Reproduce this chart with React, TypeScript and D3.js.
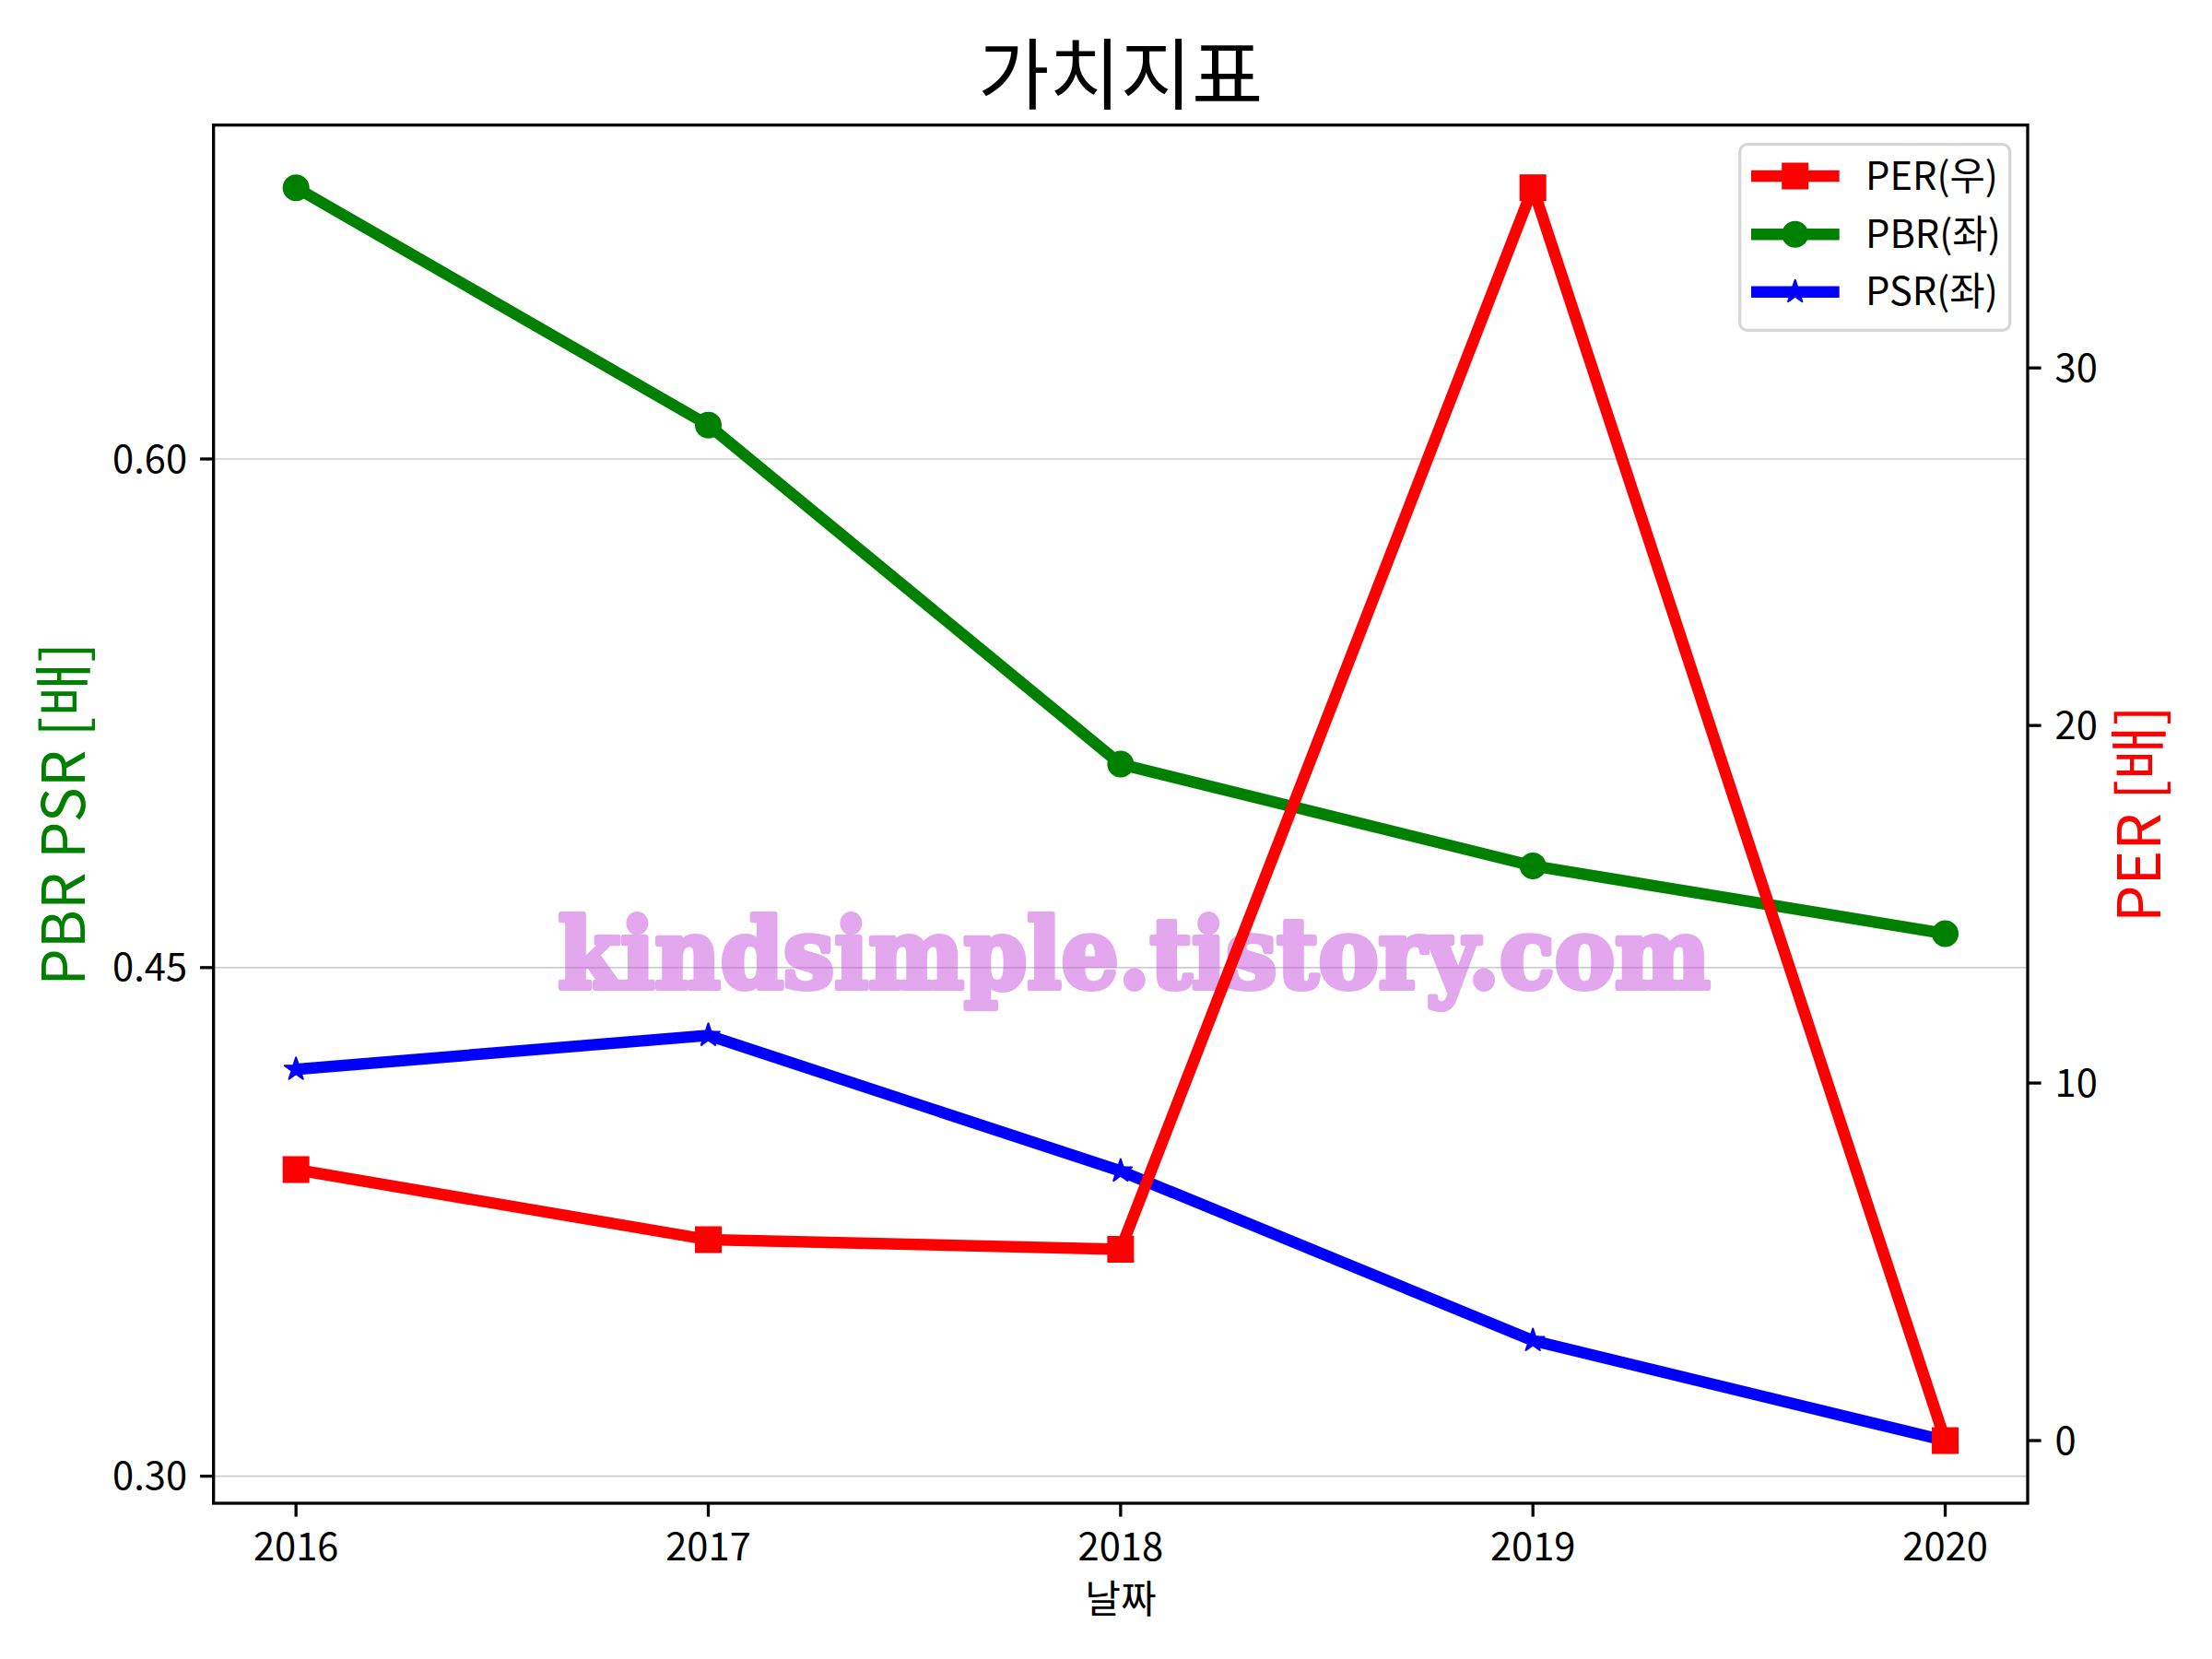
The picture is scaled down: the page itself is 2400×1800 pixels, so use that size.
import React from 'react';
import * as d3 from 'd3';

const years = [2016, 2017, 2018, 2019, 2020];
const perValues = [7.58, 5.62, 5.35, 35.04, 0];
const pbrValues = [0.68, 0.61, 0.51, 0.48, 0.46];
const psrValues = [0.42, 0.43, 0.39, 0.34, 0.3105];
const leftTicks = [0.3, 0.45, 0.6];
const rightTicks = [0, 10, 20, 30];
const legendItems = [
  { label: 'PER(우)', color: '#ff0000', marker: 'square' },
  { label: 'PBR(좌)', color: '#008000', marker: 'circle' },
  { label: 'PSR(좌)', color: '#0000ff', marker: 'star' },
];

const W = 2400;
const H = 1800;
const FONT = '"Noto Sans CJK KR", "Noto Sans", sans-serif';
const plot = { left: 231.7, right: 2200, top: 135.7, bottom: 1631 };

function padded(lo: number, hi: number): [number, number] {
  const r = hi - lo;
  return [lo - 0.05 * r, hi + 0.05 * r];
}

function starPath(cx: number, cy: number, R: number): string {
  const r = R * 0.381966;
  const pts: [number, number][] = [];
  for (let i = 0; i < 10; i++) {
    const a = -Math.PI / 2 + (i * Math.PI) / 5;
    const rr = i % 2 === 0 ? R : r;
    pts.push([cx + rr * Math.cos(a), cy + rr * Math.sin(a)]);
  }
  return d3.line()(pts) + 'Z';
}

function Marker({ type, x, y, color }: { type: string; x: number; y: number; color: string }) {
  if (type === 'square') return <rect x={x - 14.5} y={y - 14.5} width={29} height={29} fill={color} />;
  if (type === 'circle') return <circle cx={x} cy={y} r={14.5} fill={color} />;
  return <path d={starPath(x, y, 13)} fill={color} stroke={color} strokeWidth={2} strokeLinejoin="round" />;
}

export default function App() {
  const x = d3.scaleLinear().domain(padded(d3.min(years)!, d3.max(years)!)).range([plot.left, plot.right]);
  const leftAll = [...pbrValues, ...psrValues];
  const yL = d3.scaleLinear().domain(padded(d3.min(leftAll)!, d3.max(leftAll)!)).range([plot.bottom, plot.top]);
  const yR = d3.scaleLinear().domain(padded(d3.min(perValues)!, d3.max(perValues)!)).range([plot.bottom, plot.top]);

  const lineL = d3.line<number>().x((_, i) => x(years[i])).y((d) => yL(d));
  const lineR = d3.line<number>().x((_, i) => x(years[i])).y((d) => yR(d));

  const lw = 12.5;
  const tickLen = 14.6;
  const tickFs = 41.7;

  const legend = { x: 1887.7, y: 156.7, w: 293, h: 201.6 };
  const rowY = [191, 254.3, 316.7];

  return (
    <svg width={W} height={H} style={{ position: 'absolute', left: 0, top: 0, background: '#fff' }} fontFamily={FONT}>
      <rect x={0} y={0} width={W} height={H} fill="#fff" />
      <defs>
        <clipPath id="plotclip">
          <rect x={plot.left} y={plot.top} width={plot.right - plot.left} height={plot.bottom - plot.top} />
        </clipPath>
      </defs>

      {/* grid */}
      {leftTicks.map((t) => (
        <line key={'g' + t} x1={plot.left} x2={plot.right} y1={yL(t)} y2={yL(t)} stroke="#cfcfcf" strokeWidth={1.7} />
      ))}

      <g clipPath="url(#plotclip)">
        {/* left-axis series */}
        <path d={lineL(pbrValues)!} fill="none" stroke="#008000" strokeWidth={lw} strokeLinejoin="round" strokeLinecap="butt" />
        {pbrValues.map((v, i) => (
          <Marker key={'pb' + i} type="circle" x={x(years[i])} y={yL(v)} color="#008000" />
        ))}
        <path d={lineL(psrValues)!} fill="none" stroke="#0000ff" strokeWidth={lw} strokeLinejoin="round" strokeLinecap="butt" />
        {psrValues.map((v, i) => (
          <Marker key={'ps' + i} type="star" x={x(years[i])} y={yL(v)} color="#0000ff" />
        ))}

        {/* watermark */}
        <g opacity={0.5}>
          <text
            x={(601 + 1860) / 2}
            y={1072}
            textAnchor="middle"
            fontFamily='"DejaVu Serif", serif'
            fontWeight={900}
            fontSize={104}
            textLength={1250}
            lengthAdjust="spacingAndGlyphs"
            fill="rgb(200,81,221)"
            stroke="rgb(200,81,221)"
            strokeWidth={6}
            strokeLinejoin="round"
          >
            kindsimple.tistory.com
          </text>
        </g>

        {/* right-axis series */}
        <path d={lineR(perValues)!} fill="none" stroke="#ff0000" strokeWidth={lw} strokeLinejoin="round" strokeLinecap="butt" />
        {perValues.map((v, i) => (
          <Marker key={'pe' + i} type="square" x={x(years[i])} y={yR(v)} color="#ff0000" />
        ))}
      </g>

      {/* frame */}
      <rect x={plot.left} y={plot.top} width={plot.right - plot.left} height={plot.bottom - plot.top} fill="none" stroke="#000" strokeWidth={3.3} />

      {/* x ticks */}
      {years.map((yv) => (
        <g key={'x' + yv}>
          <line x1={x(yv)} x2={x(yv)} y1={plot.bottom} y2={plot.bottom + tickLen} stroke="#000" strokeWidth={3.3} />
          <text x={x(yv)} y={1693} textAnchor="middle" fontSize={tickFs} fill="#000">
            {yv}
          </text>
        </g>
      ))}

      {/* left ticks */}
      {leftTicks.map((t) => (
        <g key={'l' + t}>
          <line x1={plot.left - tickLen} x2={plot.left} y1={yL(t)} y2={yL(t)} stroke="#000" strokeWidth={3.3} />
          <text x={plot.left - tickLen - 14} y={yL(t)} dy="0.35em" textAnchor="end" fontSize={tickFs} fill="#000">
            {d3.format('.2f')(t)}
          </text>
        </g>
      ))}

      {/* right ticks */}
      {rightTicks.map((t) => (
        <g key={'r' + t}>
          <line x1={plot.right} x2={plot.right + tickLen} y1={yR(t)} y2={yR(t)} stroke="#000" strokeWidth={3.3} />
          <text x={plot.right + tickLen + 15} y={yR(t)} dy="0.35em" textAnchor="start" fontSize={tickFs} fill="#000">
            {t}
          </text>
        </g>
      ))}

      {/* axis labels */}
      <text x={1216} y={1750} textAnchor="middle" fontSize={42} fill="#000">
        날짜
      </text>
      <text transform={`translate(92, ${(plot.top + plot.bottom) / 2}) rotate(-90)`} textAnchor="middle" fontSize={64} fill="#008000">
        PBR PSR [배]
      </text>
      <text transform={`translate(2344, ${(plot.top + plot.bottom) / 2}) rotate(-90)`} textAnchor="middle" fontSize={64} fill="#ff0000">
        PER [배]
      </text>

      {/* title */}
      <text x={(plot.left + plot.right) / 2} y={112} textAnchor="middle" fontSize={84} fill="#000">
        가치지표
      </text>

      {/* legend */}
      <rect x={legend.x} y={legend.y} width={legend.w} height={legend.h} rx={8} ry={8} fill="#fff" fillOpacity={0.8} stroke="#d6d6d6" strokeWidth={3.3} />
      {legendItems.map((it, i) => (
        <g key={'lg' + i}>
          <line x1={1900} x2={1995.7} y1={rowY[i]} y2={rowY[i]} stroke={it.color} strokeWidth={lw} />
          <Marker type={it.marker} x={1947.7} y={rowY[i]} color={it.color} />
          <text x={2024} y={rowY[i]} dy="0.35em" fontSize={tickFs} fill="#000">
            {it.label}
          </text>
        </g>
      ))}
    </svg>
  );
}
